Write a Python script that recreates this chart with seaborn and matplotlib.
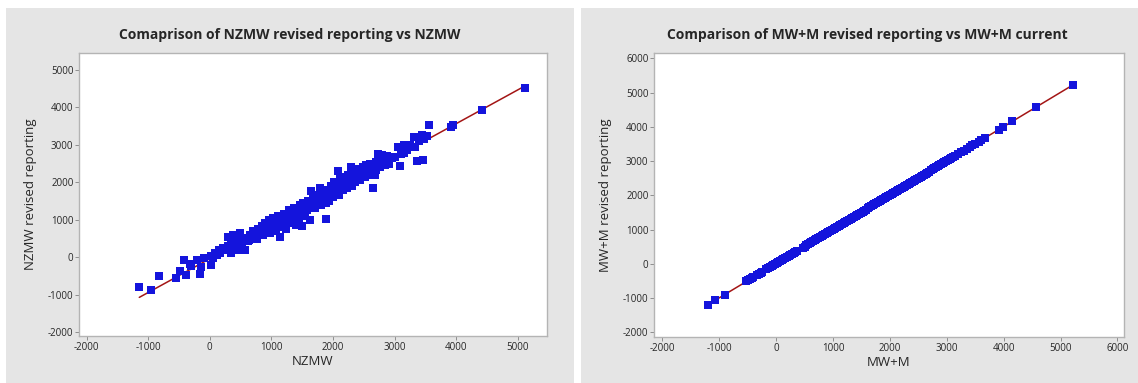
import matplotlib
matplotlib.use("Agg")
import matplotlib.pyplot as plt
import seaborn as sns
from matplotlib.patches import Rectangle

# NZMW vs NZMW revised reporting
nzmw = [-1144, -949, -825, -548, -483, -413, -389, -324, -300, -212, -159, -136, -94, 12, 12, 50,
        83, 110, 142, 170, 212, 250, 295, 336, 300, 377, 350, 400, 420, 466, 495, 520, 566, 560,
        600, 620, 650, 680, 700, 720, 740, 760, 780, 800, 820, 840, 860, 880, 900, 920, 940, 960,
        980, 1000, 1010, 1030, 1050, 1070, 1090, 1110, 1130, 1144, 1160, 1180, 1200, 1220, 1240,
        1260, 1280, 1300, 1320, 1340, 1360, 1380, 1400, 1420, 1440, 1460, 1480, 1498, 1500, 1520,
        1540, 1560, 1580, 1600, 1620, 1645, 1660, 1680, 1700, 1720, 1740, 1760, 1792, 1800, 1820,
        1840, 1860, 1881, 1880, 1900, 1920, 1940, 1960, 1980, 2000, 2020, 2040, 2060, 2087, 2100,
        2120, 2140, 2160, 2180, 2200, 2220, 2240, 2260, 2294, 2300, 2320, 2340, 2360, 2380, 2400,
        2420, 2440, 2460, 2480, 2500, 2520, 2540, 2560, 2580, 2600, 2620, 2647, 2660, 2680, 2700,
        2736, 2760, 2795, 2820, 2850, 2880, 2900, 2950, 3001, 3060, 3078, 3100, 3149, 3200, 3250,
        3314, 3325, 3367, 3400, 3443, 3455, 3480, 3532, 3561, 3915, 3939, 4416, 5106,
        450, 640, 780, 950, 1120, 1300, 1450, 1620, 1780, 1950, 2150, 2330, 2520, 2700, 2900, 3150]
nzmw_rev = [-793, -882, -499, -553, -365, -80, -481, -196, -230, -80, -455, -258, -36, -214, 27, -20,
            98, 60, 187, 120, 232, 180, 544, 98, 300, 588, 350, 250, 420, 276, 633, 380, 187, 480,
            520, 420, 600, 500, 700, 560, 640, 480, 760, 620, 700, 840, 580, 760, 900, 700, 800, 1000,
            640, 880, 760, 1050, 900, 700, 950, 1100, 800, 526, 1000, 880, 1150, 950, 760,
            1050, 1250, 900, 1100, 980, 1300, 1150, 850, 1250, 1050, 1380, 1200, 829, 1300, 1450,
            1100, 1350, 1250, 1500, 1000, 1774, 1400, 1550, 1300, 1650, 1480, 1600, 1854, 1400, 1700,
            1550, 1800, 1016, 1450, 1650, 1750, 1500, 1900, 1700, 1600, 2000, 1800, 1900, 2308, 1650,
            2100, 1950, 1800, 2150, 2000, 1850, 2200, 2050, 2398, 1900, 2250, 2100, 2000, 2300, 2150,
            2350, 2050, 2250, 2400, 2150, 2300, 2450, 2200, 2350, 2500, 2300, 1854, 2450, 2200, 2550,
            2754, 2400, 2727, 2600, 2450, 2700, 2550, 2650, 2683, 2950, 2433, 2750, 2995, 2850, 3000,
            3217, 2950, 2567, 3100, 3262, 2594, 3150, 3235, 3529, 3485, 3520, 3930, 4528,
            200, 450, 590, 760, 960, 1080, 1220, 1380, 1520, 1680, 1850, 2000, 2150, 2330, 2480, 2780]

# MW+M current vs MW+M revised reporting
mwm = [-1200, -1070, -905, -520, -490, -460, -430, -400, -330, -300, -270, -240, -170, -140, -110,
       -80, -50, -20, 10, 40, 70, 100, 130, 160, 190, 220, 250, 280, 310, 340, 370, 470, 500, 530,
       560, 590, 620, 650, 680, 710, 740, 770, 800, 830, 860, 890, 920, 950, 980, 1010, 1040, 1070,
       1100, 1130, 1160, 1190, 1220, 1250, 1280, 1310, 1340, 1370, 1400, 1430, 1460, 1490, 1520,
       1550, 1580, 1610, 1640, 1670, 1700, 1730, 1760, 1790, 1820, 1850, 1880, 1910, 1940, 1970,
       2000, 2030, 2060, 2090, 2120, 2150, 2180, 2210, 2240, 2270, 2300, 2330, 2360, 2390, 2420,
       2450, 2480, 2510, 2540, 2570, 2600, 2630, 2660, 2690, 2720, 2750, 2780, 2810, 2840, 2870,
       2900, 2930, 2960, 2990, 3020, 3050, 3080, 3110, 3150, 3190, 3250, 3300, 3350, 3400, 3450,
       3500, 3560, 3600, 3680, 3910, 3990, 4150, 4570, 5220]
mwm_rev = [-1195, -1065, -900, -515, -485, -455, -425, -395, -325, -295, -265, -235, -165, -135, -105,
           -75, -45, -15, 15, 45, 75, 105, 135, 165, 195, 225, 255, 285, 315, 345, 375, 475, 505, 535,
           565, 595, 625, 655, 685, 715, 745, 775, 805, 835, 865, 895, 925, 955, 985, 1015, 1045, 1075,
           1105, 1135, 1165, 1195, 1225, 1255, 1285, 1315, 1345, 1375, 1405, 1435, 1465, 1495, 1525,
           1555, 1585, 1615, 1645, 1675, 1705, 1735, 1765, 1795, 1825, 1855, 1885, 1915, 1945, 1975,
           2005, 2035, 2065, 2095, 2125, 2155, 2185, 2215, 2245, 2275, 2305, 2335, 2365, 2395, 2425,
           2455, 2485, 2515, 2545, 2575, 2605, 2635, 2665, 2695, 2725, 2755, 2785, 2815, 2845, 2875,
           2905, 2935, 2965, 2995, 3025, 3055, 3085, 3115, 3155, 3195, 3255, 3305, 3355, 3405, 3455,
           3505, 3565, 3605, 3685, 3915, 3995, 4155, 4575, 5230]

sns.set_style("white")
plt.rcParams['font.family'] = ['Open Sans', 'DejaVu Sans']
plt.rcParams['axes.unicode_minus'] = False

W, H = 1138, 383
fig = plt.figure(figsize=(W / 100, H / 100), dpi=100, facecolor='white')

# grey panel backgrounds (Minitab style)
for x0, x1 in [(6, 574), (581, 1138)]:
    fig.add_artist(Rectangle((x0 / W, 0), (x1 - x0) / W, (H - 8) / H, transform=fig.transFigure,
                             facecolor='#e5e5e5', edgecolor='none', zorder=-10))

BLUE = '#1414dc'
RED = '#a31515'

panels = [
    dict(x=nzmw, y=nzmw_rev, rect=(79, 53, 547, 336), xlim=(-2122, 5471), ylim=(-2107, 5454),
         xt=range(-2000, 5001, 1000), yt=range(-2000, 5001, 1000), tx=290,
         title='Comaprison of NZMW revised reporting vs NZMW', xl='NZMW', yl='NZMW revised reporting'),
    dict(x=mwm, y=mwm_rev, rect=(654, 53, 1124, 337), xlim=(-2145, 6115), ylim=(-2137, 6155),
         xt=range(-2000, 6001, 1000), yt=range(-2000, 6001, 1000), tx=867,
         title='Comparison of MW+M revised reporting vs MW+M current', xl='MW+M', yl='MW+M revised reporting'),
]

for p in panels:
    l, t, r, b = p['rect']
    ax = fig.add_axes([l / W, (H - b) / H, (r - l) / W, (b - t) / H])
    ax.set_facecolor('white')
    sns.regplot(x=p['x'], y=p['y'], ax=ax, ci=None, marker='s', truncate=True,
                scatter_kws=dict(s=27, color=BLUE, linewidths=0, alpha=1, zorder=3),
                line_kws=dict(color=RED, lw=1.1, zorder=2))
    ax.set_xlim(p['xlim'])
    ax.set_ylim(p['ylim'])
    ax.set_xticks(list(p['xt']))
    ax.set_yticks(list(p['yt']))
    ax.tick_params(axis='both', labelsize=7, length=3, width=0.6, color='#808080', pad=1,
                   direction='out', bottom=True, left=True)
    for s in ax.spines.values():
        s.set_color('#b4b4b4')
        s.set_linewidth(1)
    ax.set_xlabel(p['xl'], fontsize=9.5, labelpad=2)
    ax.set_ylabel(p['yl'], fontsize=9.5, labelpad=8)
    # title is centred on the grey panel, not on the axes
    fig.text(p['tx'] / W, (H - 35) / H, p['title'], fontsize=10, fontweight='bold',
             ha='center', va='center')

fig.savefig('out.png', dpi=100, facecolor='white')
